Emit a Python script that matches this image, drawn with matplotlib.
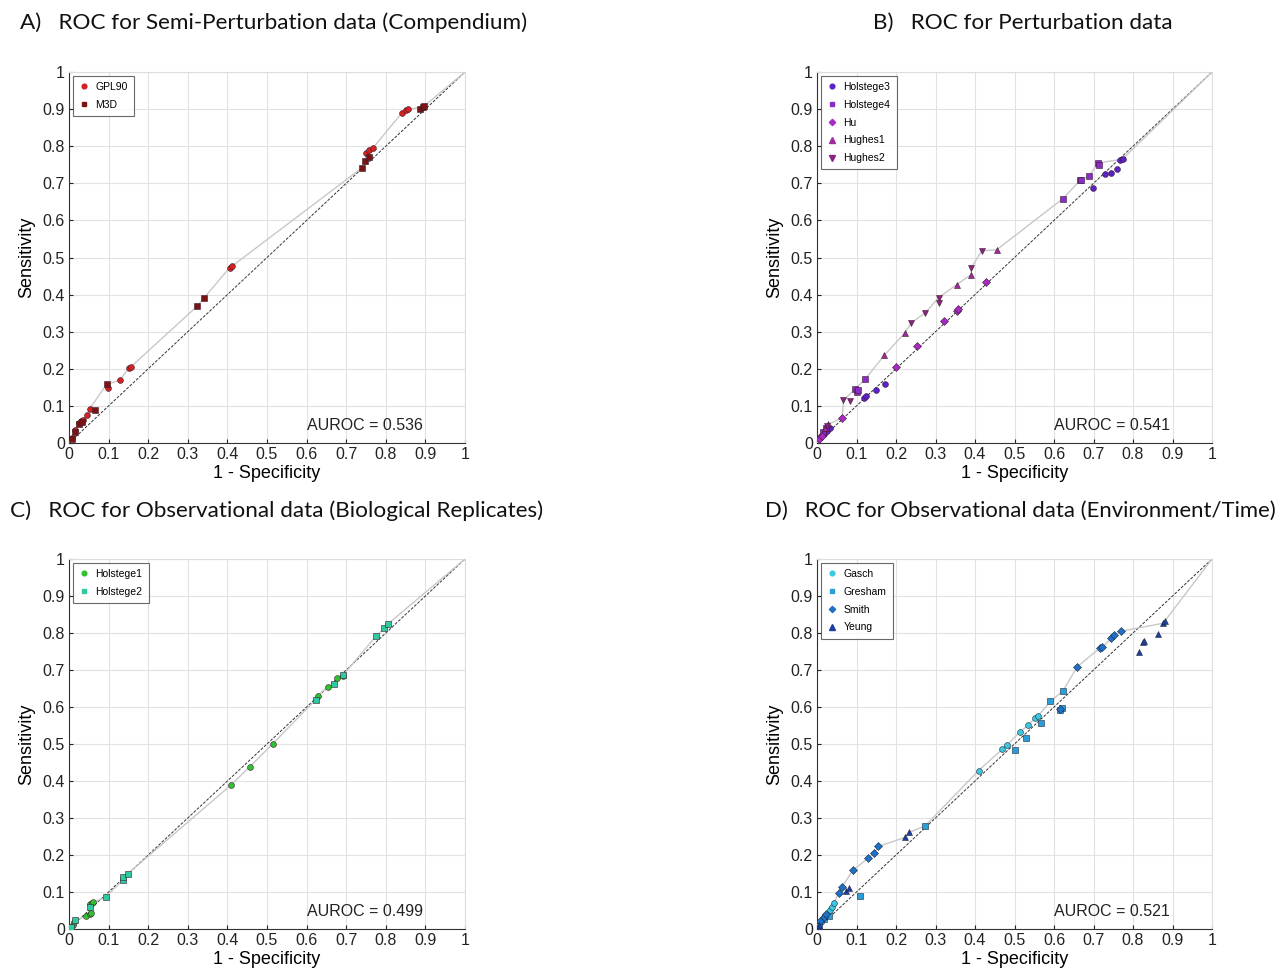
import numpy as np
import matplotlib
matplotlib.use("Agg")
import matplotlib.pyplot as plt
from matplotlib.lines import Line2D

# ---------------- data ----------------
# Panel A
gpl90_x = [0.007, 0.015, 0.025, 0.030, 0.035, 0.046, 0.052, 0.099, 0.128, 0.152, 0.156, 0.406, 0.412,
           0.751, 0.758, 0.768, 0.841, 0.851, 0.857]
gpl90_y = [0.013, 0.034, 0.055, 0.060, 0.063, 0.075, 0.092, 0.148, 0.169, 0.203, 0.205, 0.473, 0.477,
           0.783, 0.789, 0.796, 0.890, 0.897, 0.899]
m3d_x = [0.007, 0.015, 0.025, 0.032, 0.065, 0.095, 0.324, 0.341, 0.739, 0.747, 0.758, 0.887, 0.893, 0.897]
m3d_y = [0.012, 0.030, 0.052, 0.057, 0.088, 0.158, 0.369, 0.391, 0.741, 0.759, 0.771, 0.899, 0.906, 0.908]

# Panel B
hol3_x = [0.010, 0.018, 0.025, 0.034, 0.118, 0.124, 0.149, 0.171, 0.699, 0.729, 0.745, 0.759, 0.768, 0.774]
hol3_y = [0.018, 0.025, 0.032, 0.040, 0.120, 0.128, 0.142, 0.160, 0.686, 0.725, 0.729, 0.738, 0.764, 0.766]
hol4_x = [0.015, 0.022, 0.097, 0.101, 0.105, 0.122, 0.623, 0.667, 0.669, 0.688, 0.712, 0.713]
hol4_y = [0.030, 0.040, 0.146, 0.138, 0.142, 0.172, 0.659, 0.709, 0.709, 0.719, 0.755, 0.750]
hu_x = [0.004, 0.012, 0.064, 0.201, 0.254, 0.321, 0.354, 0.356, 0.428]
hu_y = [0.010, 0.020, 0.068, 0.205, 0.261, 0.328, 0.356, 0.362, 0.434]
hughes1_x = [0.020, 0.028, 0.170, 0.222, 0.354, 0.390, 0.455]
hughes1_y = [0.040, 0.050, 0.236, 0.296, 0.427, 0.454, 0.521]
hughes2_x = [0.026, 0.067, 0.084, 0.239, 0.274, 0.308, 0.308, 0.391, 0.417]
hughes2_y = [0.045, 0.115, 0.113, 0.324, 0.351, 0.392, 0.378, 0.473, 0.518]

# Panel C
hol1_x = [0.004, 0.009, 0.013, 0.044, 0.053, 0.056, 0.053, 0.058, 0.061, 0.410, 0.457, 0.514,
          0.628, 0.653, 0.678, 0.691]
hol1_y = [0.006, 0.012, 0.018, 0.034, 0.041, 0.043, 0.068, 0.069, 0.072, 0.390, 0.439, 0.500,
          0.631, 0.654, 0.678, 0.685]
hol2_x = [0.004, 0.014, 0.053, 0.093, 0.136, 0.136, 0.149, 0.623, 0.670, 0.692, 0.775, 0.796, 0.805]
hol2_y = [0.005, 0.023, 0.060, 0.086, 0.133, 0.140, 0.150, 0.620, 0.661, 0.686, 0.791, 0.813, 0.824]

# Panel D
gasch_x = [0.010, 0.020, 0.034, 0.038, 0.042, 0.409, 0.469, 0.481, 0.513, 0.535, 0.551, 0.559]
gasch_y = [0.020, 0.035, 0.052, 0.059, 0.069, 0.428, 0.486, 0.497, 0.532, 0.551, 0.569, 0.575]
gresham_x = [0.004, 0.017, 0.030, 0.109, 0.274, 0.501, 0.528, 0.566, 0.591, 0.614, 0.619, 0.623]
gresham_y = [0.008, 0.027, 0.036, 0.090, 0.279, 0.484, 0.517, 0.557, 0.615, 0.592, 0.596, 0.644]
smith_x = [0.008, 0.017, 0.022, 0.055, 0.063, 0.091, 0.130, 0.145, 0.155, 0.616, 0.659,
           0.716, 0.722, 0.745, 0.753, 0.770]
smith_y = [0.022, 0.032, 0.040, 0.097, 0.113, 0.159, 0.192, 0.205, 0.223, 0.594, 0.709,
           0.759, 0.761, 0.786, 0.795, 0.805]
yeung_x = [0.002, 0.005, 0.074, 0.080, 0.224, 0.234, 0.814, 0.825, 0.829, 0.863, 0.875, 0.881]
yeung_y = [0.005, 0.012, 0.104, 0.110, 0.248, 0.261, 0.750, 0.775, 0.779, 0.797, 0.826, 0.833]

auroc = {"A": "0.536", "B": "0.541", "C": "0.499", "D": "0.521"}
titles = {
    "A": "A)   ROC for Semi-Perturbation data (Compendium)",
    "B": "B)   ROC for Perturbation data",
    "C": "C)   ROC for Observational data (Biological Replicates)",
    "D": "D)   ROC for Observational data (Environment/Time)",
}
ticks = np.round(np.arange(0, 1.01, 0.1), 1)
tick_labels = ["0", "0.1", "0.2", "0.3", "0.4", "0.5", "0.6", "0.7", "0.8", "0.9", "1"]

panels = {
    "A": [("GPL90", gpl90_x, gpl90_y, "o", "#d42222"),
          ("M3D", m3d_x, m3d_y, "s", "#7a1414")],
    "B": [("Holstege3", hol3_x, hol3_y, "o", "#5a22c8"),
          ("Holstege4", hol4_x, hol4_y, "s", "#8a2cc8"),
          ("Hu", hu_x, hu_y, "D", "#a82ac4"),
          ("Hughes1", hughes1_x, hughes1_y, "^", "#a02a9e"),
          ("Hughes2", hughes2_x, hughes2_y, "v", "#8c2284")],
    "C": [("Holstege1", hol1_x, hol1_y, "o", "#2fc42f"),
          ("Holstege2", hol2_x, hol2_y, "s", "#2ecba2")],
    "D": [("Gasch", gasch_x, gasch_y, "o", "#3cc8e2"),
          ("Gresham", gresham_x, gresham_y, "s", "#2a9ed8"),
          ("Smith", smith_x, smith_y, "D", "#2070c8"),
          ("Yeung", yeung_x, yeung_y, "^", "#1f3fa0")],
}

W, H = 1281, 969
fig = plt.figure(figsize=(W / 100, H / 100), dpi=100)
fig.patch.set_facecolor("white")

def rect(x0, x1, ytop, ybot):
    return [x0 / W, 1 - ybot / H, (x1 - x0) / W, (ybot - ytop) / H]

axes_rects = {
    "A": rect(69, 465, 72, 443),
    "B": rect(817, 1212, 72, 443),
    "C": rect(69, 465, 559, 929),
    "D": rect(817, 1212, 559, 929),
}
title_pos = {"A": (20, 23), "B": (873, 23), "C": (10, 511), "D": (765, 511)}
title_size = {"A": 16.2, "B": 16.2, "C": 16.2, "D": 15.95}

tick_font = ["Liberation Sans", "DejaVu Sans"]
title_font = ["Lato", "DejaVu Sans"]

for key, series in panels.items():
    ax = fig.add_axes(axes_rects[key])
    ax.set_xlim(0, 1)
    ax.set_ylim(0, 1)
    ax.set_xticks(ticks)
    ax.set_yticks(ticks)
    ax.set_xticklabels(tick_labels, fontfamily=tick_font, fontsize=11.5)
    ax.set_yticklabels(tick_labels, fontfamily=tick_font, fontsize=11.5)
    ax.tick_params(direction="in", length=3, width=0.8, pad=3, colors="#222222")
    ax.grid(True, color="#e2e2e2", linewidth=0.8)
    ax.set_axisbelow(True)
    for s in ["top", "right"]:
        ax.spines[s].set_color("#dddddd")
    for s in ["left", "bottom"]:
        ax.spines[s].set_color("#333333")
        ax.spines[s].set_linewidth(0.8)

    # diagonal
    ax.plot([0, 1], [0, 1], linestyle=(0, (3, 1.5)), color="#333333", linewidth=0.7, zorder=2)

    # ROC envelope from all points of the panel
    allx = np.concatenate([np.asarray(s[1]) for s in series])
    ally = np.concatenate([np.asarray(s[2]) for s in series])
    order = np.argsort(allx, kind="stable")
    lx, ly = [0.0], [0.0]
    best = 0.0
    for i in order:
        if ally[i] > best:
            lx.append(allx[i]); ly.append(ally[i]); best = ally[i]
    lx.append(1.0); ly.append(1.0)
    ax.plot(lx, ly, color="#c8c8c8", linewidth=1.0, zorder=3)

    handles = []
    for name, xs, ys, mk, col in series:
        ms = 4.2 if mk in ("o", "s") else (4.0 if mk == "D" else 5.0)
        ax.plot(xs, ys, linestyle="none", marker=mk, markersize=ms,
                markerfacecolor=col, markeredgecolor="#3a1a2a" if key != "D" else "#1a2a3a",
                markeredgewidth=0.4, zorder=4)
        handles.append(Line2D([], [], linestyle="none", marker=mk, markersize=ms - 0.8,
                              markerfacecolor=col, markeredgecolor=col, label=name))
    leg = ax.legend(handles=handles, loc="upper left", prop={"family": tick_font, "size": 7.5},
                    frameon=True, fancybox=False, edgecolor="#444444", borderpad=0.6,
                    labelspacing=0.75, handlelength=1.0, handletextpad=0.6,
                    borderaxespad=0.35)
    leg.get_frame().set_linewidth(0.8)

    ax.text(0.6, 0.026, "AUROC = " + auroc[key], fontfamily=tick_font, fontsize=11.5,
            color="#222222", va="bottom", ha="left", zorder=5)
    ax.set_xlabel("1 - Specificity", fontfamily=tick_font, fontsize=13, labelpad=2)
    ax.set_ylabel("Sensitivity", fontfamily=tick_font, fontsize=13, labelpad=5)

    tx, ty = title_pos[key]
    fig.text(tx / W, 1 - ty / H, titles[key], fontfamily=title_font, fontsize=title_size[key],
             va="center", ha="left", color="#111111")

fig.savefig("out.png", dpi=100)
